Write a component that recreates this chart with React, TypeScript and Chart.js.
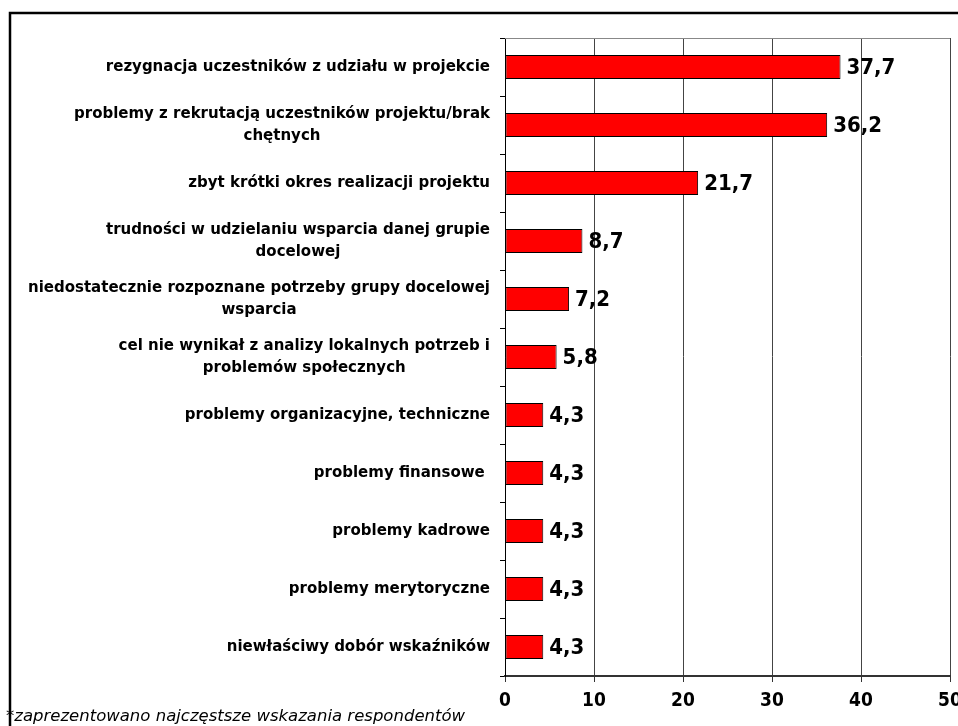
import React, { useEffect, useRef } from "react";
import { Chart, registerables } from "chart.js";

Chart.register(...registerables);

const categories: string[][] = [
  ["rezygnacja uczestników z udziału w projekcie"],
  ["problemy z rekrutacją uczestników projektu/brak", "chętnych"],
  ["zbyt krótki okres realizacji projektu"],
  ["trudności w udzielaniu wsparcia danej grupie", "docelowej"],
  ["niedostatecznie rozpoznane potrzeby grupy docelowej", "wsparcia"],
  ["cel nie wynikał z analizy lokalnych potrzeb i", "problemów społecznych"],
  ["problemy organizacyjne, techniczne"],
  ["problemy finansowe "],
  ["problemy kadrowe"],
  ["problemy merytoryczne"],
  ["niewłaściwy dobór wskaźników"],
];

const values: number[] = [37.7, 36.2, 21.7, 8.7, 7.2, 5.8, 4.3, 4.3, 4.3, 4.3, 4.3];

const xTicks: number[] = [0, 10, 20, 30, 40, 50];

const footnote = "*zaprezentowano najczęstsze wskazania respondentów";

const FONT_C = "'DejaVu Sans Condensed', 'DejaVu Sans', sans-serif";
const FONT = "'DejaVu Sans', sans-serif";

const fmt = (v: number) => v.toFixed(1).replace(".", ",");

export default function App() {
  const ref = useRef<HTMLCanvasElement | null>(null);

  useEffect(() => {
    if (!ref.current) return;
    const decor = {
      id: "decor",
      afterDraw(chart: any) {
        const ctx = chart.ctx;
        const area = chart.chartArea;
        const yScale = chart.scales.y;
        const meta = chart.getDatasetMeta(0);
        ctx.save();
        // plot top border
        ctx.strokeStyle = "#888";
        ctx.lineWidth = 1;
        ctx.beginPath();
        ctx.moveTo(area.left, area.top + 0.5);
        ctx.lineTo(area.right, area.top + 0.5);
        ctx.stroke();
        // outer frame
        ctx.strokeStyle = "#000";
        ctx.lineWidth = 2.5;
        ctx.strokeRect(10, 13, 1200, 1200);
        // category labels
        ctx.fillStyle = "#000";
        ctx.font = `bold 15px ${FONT}`;
        ctx.textAlign = "center";
        ctx.textBaseline = "middle";
        const lh = 22;
        categories.forEach((lines, i) => {
          const yc = yScale.getPixelForValue(i);
          const maxW = Math.max(...lines.map((l) => ctx.measureText(l).width));
          const cx = area.left - 15 - maxW / 2;
          const y0 = yc - ((lines.length - 1) * lh) / 2;
          lines.forEach((l, k) => ctx.fillText(l, cx, y0 + k * lh));
        });
        // value labels
        ctx.font = `bold 22px ${FONT_C}`;
        ctx.textAlign = "left";
        meta.data.forEach((bar: any, i: number) => {
          ctx.fillText(fmt(values[i]), bar.x + 6, bar.y + 1);
        });
        // footnote
        ctx.font = `italic 16.5px ${FONT}`;
        ctx.textAlign = "left";
        ctx.fillText(footnote, 6, 717);
        ctx.restore();
      },
    };

    const chart = new Chart(ref.current, {
      type: "bar",
      data: {
        labels: categories,
        datasets: [
          {
            data: values,
            backgroundColor: "#FF0000",
            borderColor: "#000000",
            borderWidth: 1,
            borderSkipped: false,
            barPercentage: 0.41,
            categoryPercentage: 1,
          },
        ],
      },
      options: {
        indexAxis: "y",
        responsive: false,
        animation: false,
        events: [],
        layout: { padding: { top: 38, right: 8, left: 0, bottom: 0 } },
        plugins: { legend: { display: false }, tooltip: { enabled: false }, title: { display: false } },
        scales: {
          x: {
            type: "linear",
            min: xTicks[0],
            max: xTicks[xTicks.length - 1],
            afterBuildTicks: (scale: any) => {
              scale.ticks = xTicks.map((v) => ({ value: v }));
            },
            afterFit: (scale: any) => {
              scale.height = 50;
              scale.paddingLeft = 0;
              scale.paddingRight = 0;
            },
            grid: { color: "#444", lineWidth: 1, drawTicks: true, tickLength: 6, tickColor: "#333" },
            border: { color: "#333", width: 2 },
            ticks: {
              color: "#000",
              padding: 8,
              maxRotation: 0,
              font: { family: FONT_C, size: 19, weight: "bold" },
            },
          },
          y: {
            type: "category",
            afterFit: (scale: any) => {
              scale.width = 505;
            },
            grid: { display: true, drawOnChartArea: false, drawTicks: true, tickLength: 5, color: "#000", offset: true },
            border: { color: "#000", width: 1 },
            ticks: { display: false },
          },
        },
      } as any,
      plugins: [decor],
    });
    return () => chart.destroy();
  }, []);

  return (
    <div style={{ position: "absolute", left: 0, top: 0, width: 958, height: 726, background: "#fff" }}>
      <canvas ref={ref} width={958} height={726} style={{ display: "block" }} />
    </div>
  );
}
